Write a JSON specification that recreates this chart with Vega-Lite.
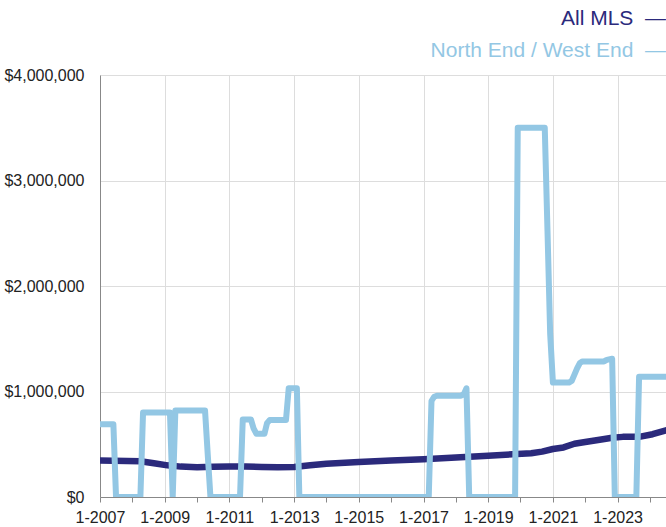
{
  "$schema": "https://vega.github.io/schema/vega-lite/v6.json",
  "width": 566,
  "height": 422,
  "autosize": "none",
  "padding": {"left": 100, "top": 75, "right": 0, "bottom": 30},
  "background": "white",
  "config": {
    "font": "Liberation Sans",
    "view": {"stroke": null}
  },
  "title": {
    "text": "All MLS\u00a0\u00a0—",
    "subtitle": "North End / West End\u00a0\u00a0—",
    "anchor": "end",
    "color": "#2b2a7c",
    "subtitleColor": "#93c7e4",
    "fontSize": 21,
    "subtitleFontSize": 21,
    "font": "Liberation Sans",
    "subtitleFont": "Liberation Sans",
    "fontWeight": "normal",
    "subtitlePadding": 11,
    "offset": 6
  },
  "data": {
    "values": [
      {"date": "2007/01/01", "series": "All MLS", "price": 345000},
      {"date": "2008/04/01", "series": "All MLS", "price": 338000},
      {"date": "2008/09/01", "series": "All MLS", "price": 320000},
      {"date": "2009/02/01", "series": "All MLS", "price": 300000},
      {"date": "2009/07/01", "series": "All MLS", "price": 288000},
      {"date": "2010/01/01", "series": "All MLS", "price": 283000},
      {"date": "2010/07/01", "series": "All MLS", "price": 286000},
      {"date": "2011/01/01", "series": "All MLS", "price": 290000},
      {"date": "2011/07/01", "series": "All MLS", "price": 290000},
      {"date": "2012/01/01", "series": "All MLS", "price": 285000},
      {"date": "2012/07/01", "series": "All MLS", "price": 281000},
      {"date": "2013/01/01", "series": "All MLS", "price": 285000},
      {"date": "2013/07/01", "series": "All MLS", "price": 300000},
      {"date": "2014/01/01", "series": "All MLS", "price": 316000},
      {"date": "2015/01/01", "series": "All MLS", "price": 332000},
      {"date": "2016/01/01", "series": "All MLS", "price": 346000},
      {"date": "2017/01/01", "series": "All MLS", "price": 358000},
      {"date": "2018/01/01", "series": "All MLS", "price": 375000},
      {"date": "2019/01/01", "series": "All MLS", "price": 392000},
      {"date": "2019/10/01", "series": "All MLS", "price": 405000},
      {"date": "2020/05/01", "series": "All MLS", "price": 415000},
      {"date": "2020/09/01", "series": "All MLS", "price": 430000},
      {"date": "2021/01/01", "series": "All MLS", "price": 455000},
      {"date": "2021/05/01", "series": "All MLS", "price": 470000},
      {"date": "2021/09/01", "series": "All MLS", "price": 505000},
      {"date": "2022/01/01", "series": "All MLS", "price": 522000},
      {"date": "2022/07/01", "series": "All MLS", "price": 545000},
      {"date": "2022/11/01", "series": "All MLS", "price": 562000},
      {"date": "2023/03/01", "series": "All MLS", "price": 570000},
      {"date": "2023/09/01", "series": "All MLS", "price": 570000},
      {"date": "2024/02/01", "series": "All MLS", "price": 595000},
      {"date": "2024/07/01", "series": "All MLS", "price": 632000},

      {"date": "2007/01/01", "series": "North End / West End", "price": 690000},
      {"date": "2007/06/01", "series": "North End / West End", "price": 690000},
      {"date": "2007/07/01", "series": "North End / West End", "price": 0},
      {"date": "2008/04/01", "series": "North End / West End", "price": 0},
      {"date": "2008/05/01", "series": "North End / West End", "price": 800000},
      {"date": "2009/03/01", "series": "North End / West End", "price": 800000},
      {"date": "2009/04/01", "series": "North End / West End", "price": 0},
      {"date": "2009/05/01", "series": "North End / West End", "price": 820000},
      {"date": "2010/04/01", "series": "North End / West End", "price": 820000},
      {"date": "2010/05/01", "series": "North End / West End", "price": 410000},
      {"date": "2010/06/01", "series": "North End / West End", "price": 0},
      {"date": "2011/05/01", "series": "North End / West End", "price": 0},
      {"date": "2011/06/01", "series": "North End / West End", "price": 735000},
      {"date": "2011/09/01", "series": "North End / West End", "price": 735000},
      {"date": "2011/10/01", "series": "North End / West End", "price": 650000},
      {"date": "2011/11/01", "series": "North End / West End", "price": 600000},
      {"date": "2012/02/01", "series": "North End / West End", "price": 600000},
      {"date": "2012/03/01", "series": "North End / West End", "price": 700000},
      {"date": "2012/04/01", "series": "North End / West End", "price": 730000},
      {"date": "2012/10/01", "series": "North End / West End", "price": 730000},
      {"date": "2012/11/01", "series": "North End / West End", "price": 1030000},
      {"date": "2013/02/01", "series": "North End / West End", "price": 1030000},
      {"date": "2013/03/01", "series": "North End / West End", "price": 0},
      {"date": "2017/03/01", "series": "North End / West End", "price": 0},
      {"date": "2017/04/01", "series": "North End / West End", "price": 910000},
      {"date": "2017/05/01", "series": "North End / West End", "price": 950000},
      {"date": "2017/06/01", "series": "North End / West End", "price": 960000},
      {"date": "2018/03/01", "series": "North End / West End", "price": 960000},
      {"date": "2018/04/01", "series": "North End / West End", "price": 975000},
      {"date": "2018/05/01", "series": "North End / West End", "price": 1030000},
      {"date": "2018/06/01", "series": "North End / West End", "price": 0},
      {"date": "2019/11/01", "series": "North End / West End", "price": 0},
      {"date": "2019/12/01", "series": "North End / West End", "price": 3500000},
      {"date": "2020/10/01", "series": "North End / West End", "price": 3500000},
      {"date": "2020/11/01", "series": "North End / West End", "price": 2520000},
      {"date": "2020/12/01", "series": "North End / West End", "price": 1550000},
      {"date": "2021/01/01", "series": "North End / West End", "price": 1085000},
      {"date": "2021/07/01", "series": "North End / West End", "price": 1085000},
      {"date": "2021/08/01", "series": "North End / West End", "price": 1100000},
      {"date": "2021/09/01", "series": "North End / West End", "price": 1160000},
      {"date": "2021/10/01", "series": "North End / West End", "price": 1220000},
      {"date": "2021/11/01", "series": "North End / West End", "price": 1270000},
      {"date": "2021/12/01", "series": "North End / West End", "price": 1285000},
      {"date": "2022/08/01", "series": "North End / West End", "price": 1285000},
      {"date": "2022/09/01", "series": "North End / West End", "price": 1300000},
      {"date": "2022/11/01", "series": "North End / West End", "price": 1310000},
      {"date": "2022/12/01", "series": "North End / West End", "price": 0},
      {"date": "2023/08/01", "series": "North End / West End", "price": 0},
      {"date": "2023/09/01", "series": "North End / West End", "price": 1140000},
      {"date": "2024/07/01", "series": "North End / West End", "price": 1140000}
    ]
  },
  "mark": {"type": "line", "strokeJoin": "round", "strokeCap": "round", "clip": true},
  "encoding": {
    "x": {
      "field": "date",
      "type": "temporal",
      "scale": {"domain": [{"year": 2007, "month": 1, "date": 1}, {"year": 2024, "month": 7, "date": 1}]},
      "axis": {
        "title": null,
        "tickCount": {"interval": "year", "step": 1},
        "labelExpr": "year(datum.value) % 2 == 1 ? '1-' + year(datum.value) : ''",
        "labelFlush": false,
        "labelOverlap": false,
        "labelBound": false,
        "labelFontSize": 16,
        "labelColor": "#222222",
        "labelPadding": 7,
        "tickSize": 5,
        "tickColor": "#888888",
        "domainColor": "#888888",
        "gridColor": "#dddddd",
        "gridOpacity": {"condition": {"test": "year(datum.value) % 2 == 1", "value": 1}, "value": 0}
      }
    },
    "y": {
      "field": "price",
      "type": "quantitative",
      "scale": {"domain": [0, 4000000]},
      "axis": {
        "title": null,
        "values": [0, 1000000, 2000000, 3000000, 4000000],
        "format": "$,.0f",
        "ticks": false,
        "labelPadding": 16,
        "labelFontSize": 16,
        "labelColor": "#222222",
        "domainColor": "#888888",
        "gridColor": "#dddddd"
      }
    },
    "color": {
      "field": "series",
      "type": "nominal",
      "scale": {"domain": ["All MLS", "North End / West End"], "range": ["#2b2a7c", "#93c7e4"]},
      "legend": null
    },
    "strokeWidth": {
      "field": "series",
      "type": "nominal",
      "scale": {"domain": ["All MLS", "North End / West End"], "range": [6.5, 6]},
      "legend": null
    }
  }
}
